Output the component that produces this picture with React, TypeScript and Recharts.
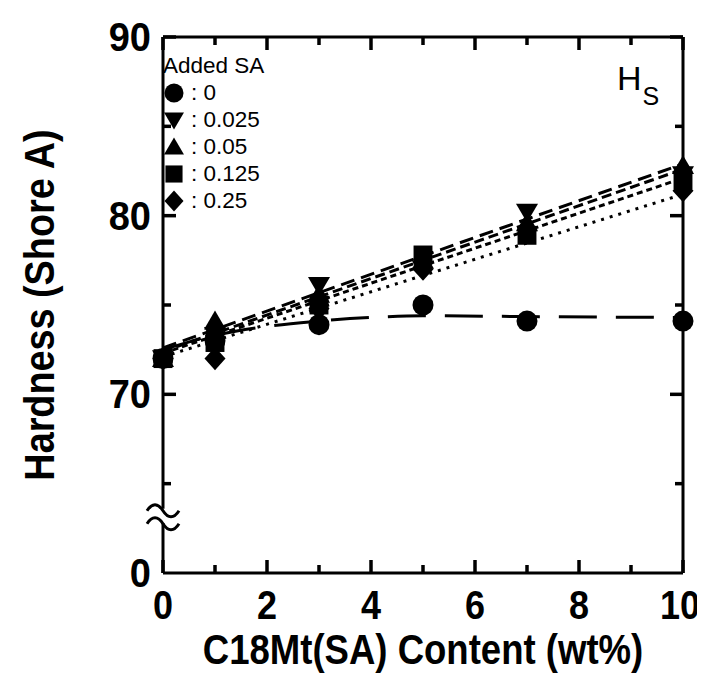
import React from 'react';
import { ComposedChart, Line, Scatter, XAxis, YAxis, ReferenceDot, ReferenceLine, Label } from 'recharts';

// C18Mt(SA) content, wt%
const contentX = [0, 1, 3, 5, 7, 10];

// hardness (Shore A) per added SA level
const sa0 = [72, 73, 73.9, 75, 74.1, 74.1];
const sa0025 = [72, 73.3, 76.1, 77, 80.2, 82.3];
const sa005 = [72, 74.1, 75.6, 77.5, 79.6, 82.8];
const sa0125 = [72, 72.9, 75, 77.8, 78.9, 82];
const sa025 = [72, 72, 74.8, 77, 79.2, 81.4];

// fitted lines as drawn in the figure
const fitX = [0, 10];
const fit0025 = [72.6, 82.9];
const fit005 = [72.4, 82.6];
const fit0125 = [72.3, 82.1];
const fit025 = [72.1, 81.2];
const fit0X = [0, 1, 2, 3, 4, 5, 7, 10];
const fit0 = [72.5, 73.3, 73.8, 74.1, 74.3, 74.4, 74.35, 74.3];

const xTicks = [0, 1, 2, 3, 4, 5, 6, 7, 8, 9, 10];
// y axis is broken: 60 on the scale stands for 0
const yTicks = [60, 65, 70, 75, 80, 85, 90];
const yTickLabels: { [k: number]: string } = { 60: '0', 70: '70', 80: '80', 90: '90' };
const yBreak = [62.8, 63.6];

const legendLabels = ['0', '0.025', '0.05', '0.125', '0.25'];
const legendShapes = ['circle', 'down', 'up', 'square', 'diamond'];

const FONT = "'Liberation Sans', Arial, Helvetica, sans-serif";

const toPoints = (xs: number[], ys: number[]) => xs.map((x, i) => ({ x, y: ys[i] }));

function markerPath(kind: string, cx: number, cy: number, s: number) {
  switch (kind) {
    case 'circle':
      return <circle cx={cx} cy={cy} r={s} fill="#000" />;
    case 'down':
      return <path d={`M${cx - s * 1.05},${cy - s * 0.8} L${cx + s * 1.05},${cy - s * 0.8} L${cx},${cy + s * 1.0} Z`} fill="#000" />;
    case 'up':
      return <path d={`M${cx - s * 1.05},${cy + s * 0.8} L${cx + s * 1.05},${cy + s * 0.8} L${cx},${cy - s * 1.0} Z`} fill="#000" />;
    case 'square':
      return <rect x={cx - s * 0.9} y={cy - s * 0.9} width={s * 1.8} height={s * 1.8} fill="#000" />;
    default:
      return <path d={`M${cx},${cy - s * 1.1} L${cx + s * 1.0},${cy} L${cx},${cy + s * 1.1} L${cx - s * 1.0},${cy} Z`} fill="#000" />;
  }
}

const shapeFor = (kind: string) => (props: any) => <g>{markerPath(kind, props.cx, props.cy, 10.5)}</g>;

// inward frame ticks, drawn as scatter points sitting on the frame
const xTickShape = (dir: number) => (p: any) => {
  const len = p.payload.x % 2 === 0 ? 13 : 8;
  return <path d={`M${p.cx},${p.cy} L${p.cx},${p.cy + dir * len}`} stroke="#000" strokeWidth={3.5} fill="none" />;
};
const yTickShape = (dir: number) => (p: any) => {
  const len = p.payload.y % 10 === 0 ? 13 : 8;
  return <path d={`M${p.cx},${p.cy} L${p.cx + dir * len},${p.cy}`} stroke="#000" strokeWidth={3.5} fill="none" />;
};

const XTick = ({ x, y, payload }: any) => {
  if (payload.value % 2 !== 0) return <g />;
  // last label kept inside the page, as in the figure
  const last = payload.value === 10;
  return (
    <text transform={`translate(${last ? x + 17 : x},${y + 46}) scale(0.9,1)`} textAnchor={last ? 'end' : 'middle'} fontFamily={FONT} fontWeight={700} fontSize={40} fill="#000">
      {payload.value}
    </text>
  );
};

const YTick = ({ x, y, payload }: any) => {
  const label = yTickLabels[payload.value];
  return label ? (
    <text transform={`translate(${x - 12},${y + 14}) scale(0.95,1)`} textAnchor="end" fontFamily={FONT} fontWeight={700} fontSize={40} fill="#000">
      {label}
    </text>
  ) : <g />;
};

const BreakMark = ({ cx, cy }: any) => (
  <g>
    <path d={`M${cx - 16},${cy - 5} c5,-8 11,-8 16,0 s11,8 16,0`} fill="none" stroke="#000" strokeWidth={3} />
    <path d={`M${cx - 16},${cy + 8} c5,-8 11,-8 16,0 s11,8 16,0`} fill="none" stroke="#000" strokeWidth={3} />
  </g>
);

const LegendBox = () => (
  <div style={{ position: 'absolute', left: 155, top: 44, fontFamily: FONT, fontSize: 22.5, lineHeight: '27px', color: '#000' }}>
    <div>Added SA</div>
    {legendLabels.map((lab, i) => (
      <div key={lab} style={{ display: 'flex', alignItems: 'center', height: 27 }}>
        <svg width={22} height={24}>{markerPath(legendShapes[i], 11, 12, 9.5)}</svg>
        <span style={{ marginLeft: 6 }}>: {lab}</span>
      </div>
    ))}
  </div>
);

const XTitle = ({ viewBox }: any) => (
  <text transform={`translate(${viewBox.x + viewBox.width / 2},656) scale(0.87,1)`} textAnchor="middle" fontFamily={FONT} fontWeight={700} fontSize={42} fill="#000">
    C18Mt(SA) Content (wt%)
  </text>
);

const YTitle = ({ viewBox }: any) => (
  <text transform={`translate(46,${viewBox.y + viewBox.height / 2}) rotate(-90) scale(0.9,1)`} textAnchor="middle" fontFamily={FONT} fontWeight={700} fontSize={42} fill="#000">
    Hardness (Shore A)
  </text>
);

export default function App() {
  const axisLine = { stroke: '#000', strokeWidth: 3 };
  const ids = { xAxisId: 'b', yAxisId: 'l' };
  return (
    <div style={{ position: 'relative', width: 697, height: 668 }}>
      <ComposedChart width={697} height={668} margin={{ top: 28, right: 21, left: 0, bottom: 0 }}>
        <XAxis xAxisId="b" type="number" dataKey="x" domain={[0, 10]} ticks={xTicks} interval={0} height={103}
          axisLine={axisLine} tickLine={false} tickSize={0} tickMargin={0} tick={(p: any) => <XTick {...p} />}>
          <Label content={XTitle} />
        </XAxis>
        <XAxis xAxisId="t" orientation="top" type="number" dataKey="x" domain={[0, 10]} ticks={xTicks} height={1}
          axisLine={axisLine} tickLine={false} tick={false} />
        <YAxis yAxisId="l" type="number" domain={[60, 90]} ticks={yTicks} interval={0} width={155}
          axisLine={false} tickLine={false} tickSize={0} tickMargin={0} tick={(p: any) => <YTick {...p} />}>
          <Label content={YTitle} />
        </YAxis>
        <YAxis yAxisId="r" orientation="right" type="number" domain={[60, 90]} ticks={yTicks} width={1}
          axisLine={axisLine} tickLine={false} tick={false} />

        {/* left frame, split at the axis break */}
        <ReferenceLine {...ids} segment={[{ x: 0, y: 60 }, { x: 0, y: yBreak[0] }]} stroke="#000" strokeWidth={3} ifOverflow="visible" />
        <ReferenceLine {...ids} segment={[{ x: 0, y: yBreak[1] }, { x: 0, y: 90 }]} stroke="#000" strokeWidth={3} ifOverflow="visible" />

        <Scatter {...ids} data={xTicks.map((x) => ({ x, y: 60 }))} dataKey="y" shape={xTickShape(-1)} isAnimationActive={false} />
        <Scatter {...ids} data={xTicks.map((x) => ({ x, y: 90 }))} dataKey="y" shape={xTickShape(1)} isAnimationActive={false} />
        <Scatter {...ids} data={yTicks.slice(1).map((y) => ({ x: 0, y }))} dataKey="y" shape={yTickShape(1)} isAnimationActive={false} />
        <Scatter {...ids} data={yTicks.slice(1).map((y) => ({ x: 10, y }))} dataKey="y" shape={yTickShape(-1)} isAnimationActive={false} />

        <Line {...ids} data={toPoints(fit0X, fit0)} dataKey="y" type="monotone" stroke="#000" strokeWidth={3} strokeDasharray="38 19" dot={false} isAnimationActive={false} />
        <Line {...ids} data={toPoints(fitX, fit0025)} dataKey="y" stroke="#000" strokeWidth={3} strokeDasharray="14 7" dot={false} isAnimationActive={false} />
        <Line {...ids} data={toPoints(fitX, fit005)} dataKey="y" stroke="#000" strokeWidth={3} strokeDasharray="10 5" dot={false} isAnimationActive={false} />
        <Line {...ids} data={toPoints(fitX, fit0125)} dataKey="y" stroke="#000" strokeWidth={3} strokeDasharray="6 4" dot={false} isAnimationActive={false} />
        <Line {...ids} data={toPoints(fitX, fit025)} dataKey="y" stroke="#000" strokeWidth={3} strokeDasharray="3 6" dot={false} isAnimationActive={false} />

        <Scatter {...ids} data={toPoints(contentX, sa0)} dataKey="y" shape={shapeFor('circle')} isAnimationActive={false} />
        <Scatter {...ids} data={toPoints(contentX, sa025)} dataKey="y" shape={shapeFor('diamond')} isAnimationActive={false} />
        <Scatter {...ids} data={toPoints(contentX, sa0125)} dataKey="y" shape={shapeFor('square')} isAnimationActive={false} />
        <Scatter {...ids} data={toPoints(contentX, sa005)} dataKey="y" shape={shapeFor('up')} isAnimationActive={false} />
        <Scatter {...ids} data={toPoints(contentX, sa0025)} dataKey="y" shape={shapeFor('down')} isAnimationActive={false} />

        <ReferenceDot {...ids} x={0} y={(yBreak[0] + yBreak[1]) / 2} ifOverflow="visible" shape={BreakMark} />
      </ComposedChart>
      <LegendBox />
      <div style={{ position: 'absolute', left: 609, top: 53, fontFamily: FONT, fontSize: 34, color: '#000', lineHeight: 1 }}>
        H<span style={{ fontSize: 25, position: 'relative', top: 15, marginLeft: 1 }}>S</span>
      </div>
    </div>
  );
}
